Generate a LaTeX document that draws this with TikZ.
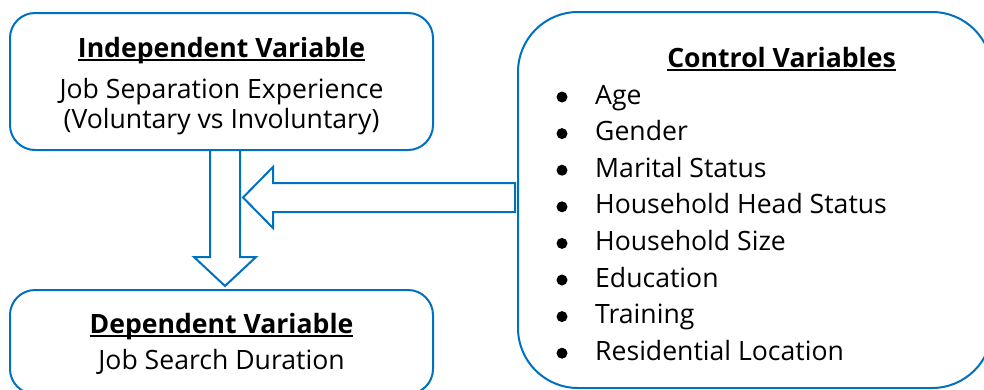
\documentclass[tikz,border=0pt]{standalone}
\usepackage{fontspec}
\setmainfont{Open Sans}
\usetikzlibrary{positioning}
\usetikzlibrary{calc}
\definecolor{boxblue}{RGB}{0,112,192}
\newlength{\ulwidth}
\newcommand{\ulined}[1]{\settowidth{\ulwidth}{#1}\rlap{\rule[-4pt]{\ulwidth}{1.6pt}}#1}

\begin{document}
\begin{tikzpicture}[x=1pt, y=-1pt,
    box/.style = {draw=boxblue, line width=2pt, rounded corners=25pt, outer sep=0pt, inner sep=0pt, fill=white},
    blockarr/.style = {draw=boxblue, line width=2pt, fill=white, line join=miter},
    title/.style = {font=\fontsize{26.6}{32}\selectfont\bfseries, inner sep=0pt, anchor=base},
    body/.style = {font=\fontsize{26.6}{32}\selectfont, inner sep=0pt, anchor=base},
    listitem/.style = {font=\fontsize{26.6}{32}\selectfont, inner sep=0pt, anchor=base west}]
    \useasboundingbox (0,0) rectangle (984,389);

    % boxes
    \node[box, minimum width=423pt, minimum height=137pt] (indep) at (221.5,81.5) {};
    \node[box, minimum width=423pt, minimum height=104pt] (dep) at (221.5,342) {};
    \node[box, rounded corners=60pt, minimum width=474pt, minimum height=376pt] (ctrl) at (755,200) {};

    % texts
    \node[title] (indeptitle) at (221.5,57) {\ulined{Independent Variable}};
    \node[body] (indepline1) at (221.5,98) {Job Separation Experience};
    \node[body] (indepline2) at (221.5,128) {(Voluntary vs Involuntary)};
    \node[title] (deptitle) at (221.5,333) {\ulined{Dependent Variable}};
    \node[body] (depline) at (221.5,369) {Job Search Duration};
    \node[title] (ctrltitle) at (781.5,67) {\ulined{Control Variables}};
    \foreach \ctrlvar [count=\i] in {Age, Gender, Marital Status, Household Head Status,
        Household Size, Education, Training, Residential Location}
    {
        \node[listitem] (ctrlitem\i) at ({595},{104+36.6*(\i-1)}) {\ctrlvar};
        \fill ([xshift=-33pt,yshift=7pt]ctrlitem\i.base west) circle (5.5pt);
    }

    % block arrows
    \coordinate (dtop) at ([xshift=3.5pt]indep.south);
    \coordinate (dtip) at ([xshift=3.5pt,yshift=4pt]dep.north);
    \coordinate (ltail) at ([xshift=-3pt,yshift=2.5pt]ctrl.west);
    \coordinate (ltip) at ($(dtop |- ltail)+(18,0)$);
    \draw[blockarr] (dtop) ++(-15,0) -- ++(0,107) -- ++(-16,0) -- (dtip) -- ++(31,-29) -- ++(-16,0) -- ++(0,-107) -- cycle;
    \draw[blockarr] (ltail) ++(0,-14.5) -- ++(-242,0) -- ++(0,-16) -- (ltip) -- ++(30,30.5) -- ++(0,-16) -- ++(242,0) -- cycle;
\end{tikzpicture}
\end{document}
